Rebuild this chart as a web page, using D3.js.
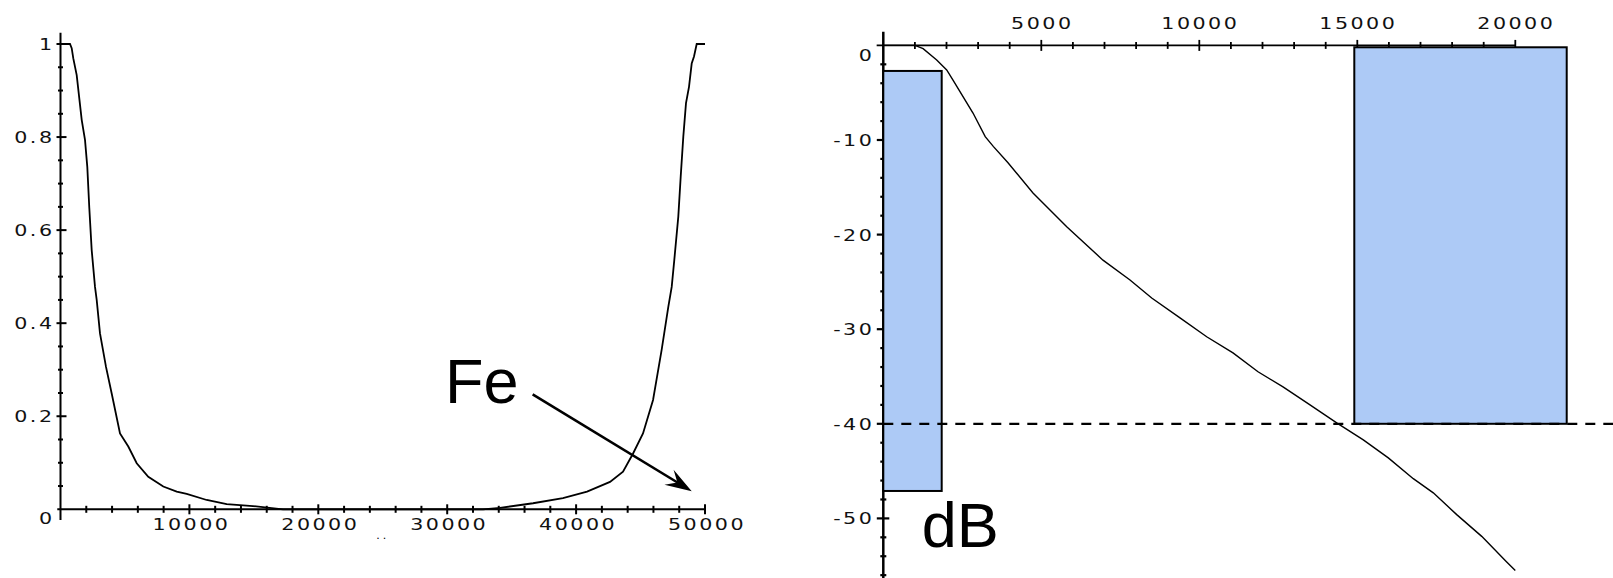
<!DOCTYPE html>
<html>
<head>
    <meta charset="utf-8">
    <title>Fe / dB</title>
    <style type="text/css">
        body { margin: 0; background: #fff; }
        svg { display: block; }
        .tick-label { font-family: "DejaVu Sans", sans-serif; font-size: 16.5px; letter-spacing: 2px; fill: #111; }
        .big { font-family: "Liberation Sans", Arial, sans-serif; font-size: 63px; fill: #000; }
    </style>
</head>
<body>
    <svg class="chart"></svg>
    <script src="https://cdn.jsdelivr.net/npm/d3@7"></script>
    <script type="text/javascript">
        // left plot: Fe response (0..50000)
        var feX = [0, 737, 869, 993, 1257, 1458, 1645, 1901, 2079, 2234, 2420, 2677, 2808, 3064, 3530, 3972, 4616, 5260, 5912, 6811, 7975, 9015, 9790, 11342, 12894, 14934, 17262,
                   32780, 34100, 36660, 38980, 40850, 42630, 43640, 44420, 45190, 45970, 46640, 47153, 47417, 47619, 47929, 48115, 48317, 48526, 48759, 48968, 49147, 49356, 50000];
        var feY = [1, 1, 0.991, 0.969, 0.933, 0.883, 0.837, 0.794, 0.736, 0.648, 0.557, 0.478, 0.450, 0.378, 0.306, 0.249, 0.163, 0.135, 0.099, 0.070, 0.049, 0.038, 0.033, 0.020, 0.011, 0.007, 0,
                   0, 0.003, 0.013, 0.024, 0.038, 0.059, 0.081, 0.12, 0.163, 0.235, 0.343, 0.435, 0.478, 0.536, 0.629, 0.715, 0.801, 0.873, 0.908, 0.958, 0.973, 1, 1];
        var feXTicks = [10000, 20000, 30000, 40000, 50000];
        var feYTicks = [0.2, 0.4, 0.6, 0.8, 1];

        // right plot: gain in dB (0..20000)
        var dbX = [0, 1003, 1260, 1690, 2006, 2206, 2839, 3225, 3487, 3946, 4737, 5813, 6952, 7807, 8494, 9389, 10234, 11066, 11858, 12649, 13503, 14348, 15190, 15981, 16772, 17405, 18146, 18937, 19728, 20000];
        var dbY = [0, 0, -0.35, -1.54, -2.6, -3.66, -7.15, -9.65, -10.7, -12.4, -15.6, -19.2, -22.7, -24.8, -26.7, -28.8, -30.8, -32.5, -34.5, -36.1, -38.0, -39.9, -41.7, -43.6, -45.8, -47.3, -49.6, -51.9, -54.6, -55.5];
        var dbXTicks = [5000, 10000, 15000, 20000];
        var dbYTicks = [-10, -20, -30, -40, -50];

        // pass / stop bands
        var bandStart = [0, 14905];
        var bandEnd = [1848, 21627];
        var bandTop = [-2.7, -0.2];
        var bandBottom = [-47.1, -40];
        var stopLevel = -40;

        var width = 1613, height = 578;
        var stretch = 1.25; // tick font is wide

        var svg = d3.select("svg.chart")
            .attr("width", width)
            .attr("height", height);

        // scales
        var xL = d3.scaleLinear().domain([0, 50000]).range([60.5, 705]);
        var yL = d3.scaleLinear().domain([0, 1]).range([509.3, 44]);
        var xR = d3.scaleLinear().domain([0, 20000]).range([883.3, 1515.3]);
        var yR = d3.scaleLinear().domain([0, -50]).range([45.4, 518.4]);

        // tick label helper
        function label(g, x, y, anchor, txt) {
            return g.append("text")
                .attr("class", "tick-label")
                .attr("transform", `translate(${x},${y}) scale(${stretch},1)`)
                .attr("text-anchor", anchor)
                .text(txt);
        }

        // ---------- left plot ----------
        var gL = svg.append("g");

        // axes lines
        gL.append("line")
            .attr("x1", xL(0)).attr("x2", xL(0))
            .attr("y1", yL(1.024)).attr("y2", yL(-0.023))
            .attr("stroke", "#000").attr("stroke-width", 2);
        gL.append("line")
            .attr("x1", xL(-250)).attr("x2", xL(50000))
            .attr("y1", yL(0)).attr("y2", yL(0))
            .attr("stroke", "#000").attr("stroke-width", 2);

        // minor + major ticks (cross the axis)
        gL.selectAll("line.xt")
            .data(xL.ticks(25).filter(d => d > 0))
            .join("line")
                .attr("class", "xt")
                .attr("x1", d => xL(d)).attr("x2", d => xL(d))
                .attr("y1", d => yL(0) - (d % 10000 === 0 ? 5 : 3.5))
                .attr("y2", d => yL(0) + (d % 10000 === 0 ? 5 : 3.5))
                .attr("stroke", "#000").attr("stroke-width", 2);
        gL.selectAll("line.yt")
            .data(yL.ticks(25).filter(d => d > 0))
            .join("line")
                .attr("class", "yt")
                .attr("x1", d => xL(0) - (Math.abs(d * 5 - Math.round(d * 5)) < 1e-6 ? 4 : 2.5))
                .attr("x2", d => xL(0) + (Math.abs(d * 5 - Math.round(d * 5)) < 1e-6 ? 6 : 2.5))
                .attr("y1", d => yL(d)).attr("y2", d => yL(d))
                .attr("stroke", "#000").attr("stroke-width", 2);

        // tick labels
        feXTicks.forEach(d => label(gL, xL(d) + 2, yL(0) + 21, "middle", d));
        feYTicks.forEach(d => label(gL, xL(0) - 6, yL(d) + 6, "end", d));
        label(gL, xL(0) - 6, yL(0) + 15, "end", "0");
        gL.append("text")
            .attr("x", xL(25000))
            .attr("y", yL(0) + 30)
            .attr("text-anchor", "middle")
            .style("font", "11px 'DejaVu Sans'")
            .style("letter-spacing", "3px")
            .text("..");

        // curve
        gL.append("path")
            .datum(d3.zip(feX, feY))
            .attr("fill", "none")
            .attr("stroke", "#000")
            .attr("stroke-width", 1.8)
            .attr("d", d3.line().x(d => xL(d[0])).y(d => yL(d[1])));

        // Fe annotation
        gL.append("text")
            .attr("class", "big")
            .attr("x", xL(29830))
            .attr("y", yL(0.229))
            .text("Fe");

        var a0 = [xL(36630), yL(0.247)], a1 = [xL(48970), yL(0.039)];
        var ang = Math.atan2(a1[1] - a0[1], a1[0] - a0[0]);
        gL.append("line")
            .attr("x1", a0[0]).attr("y1", a0[1])
            .attr("x2", a1[0] - 8 * Math.cos(ang)).attr("y2", a1[1] - 8 * Math.sin(ang))
            .attr("stroke", "#000").attr("stroke-width", 2.6);
        var hl = 28, hw = 0.32;
        gL.append("path")
            .attr("fill", "#000")
            .attr("d", "M" + a1[0] + "," + a1[1]
                + "L" + (a1[0] - hl * Math.cos(ang - hw)) + "," + (a1[1] - hl * Math.sin(ang - hw))
                + "L" + (a1[0] - 0.6 * hl * Math.cos(ang)) + "," + (a1[1] - 0.6 * hl * Math.sin(ang))
                + "L" + (a1[0] - hl * Math.cos(ang + hw)) + "," + (a1[1] - hl * Math.sin(ang + hw))
                + "Z");

        // ---------- right plot ----------
        var gR = svg.append("g");

        gR.append("line")
            .attr("x1", xR(-210)).attr("x2", xR(20000))
            .attr("y1", yR(0)).attr("y2", yR(0))
            .attr("stroke", "#000").attr("stroke-width", 1.6);
        gR.append("line")
            .attr("x1", xR(0)).attr("x2", xR(0))
            .attr("y1", yR(1.45)).attr("y2", height)
            .attr("stroke", "#000").attr("stroke-width", 2.5);

        gR.selectAll("line.xt")
            .data(xR.ticks(20).filter(d => d > 0))
            .join("line")
                .attr("class", "xt")
                .attr("x1", d => xR(d)).attr("x2", d => xR(d))
                .attr("y1", d => yR(0) - (d % 5000 === 0 ? 5.5 : 3.5))
                .attr("y2", d => yR(0) + (d % 5000 === 0 ? 5.5 : 3.5))
                .attr("stroke", "#000").attr("stroke-width", 1.8);
        gR.selectAll("line.yt")
            .data(d3.scaleLinear().domain([0, -56]).ticks(28).filter(d => d < 0))
            .join("line")
                .attr("class", "yt")
                .attr("x1", d => xR(0) - (d % 10 === 0 ? 6.5 : 3))
                .attr("x2", d => xR(0) + (d % 10 === 0 ? 6 : 3))
                .attr("y1", d => yR(d)).attr("y2", d => yR(d))
                .attr("stroke", "#000").attr("stroke-width", 2.2);

        dbXTicks.forEach(d => label(gR, xR(d) + 1, yR(0) - 16, "middle", d));
        dbYTicks.forEach(d => label(gR, xR(0) - 9, yR(d) + 6, "end", d));
        label(gR, xR(0) - 9, yR(0) + 16, "end", "0");

        // bands
        gR.selectAll("rect.band")
            .data(d3.range(bandStart.length))
            .join("rect")
                .attr("class", "band")
                .attr("x", i => xR(bandStart[i]))
                .attr("y", i => yR(bandTop[i]))
                .attr("width", i => xR(bandEnd[i]) - xR(bandStart[i]))
                .attr("height", i => yR(bandBottom[i]) - yR(bandTop[i]))
                .attr("fill", "#adcaf6")
                .attr("stroke", "#000")
                .attr("stroke-width", 2);

        // -40 dB level
        gR.append("line")
            .attr("x1", xR(0)).attr("x2", width)
            .attr("y1", yR(stopLevel)).attr("y2", yR(stopLevel))
            .attr("stroke", "#000")
            .attr("stroke-width", 2.2)
            .attr("stroke-dasharray", "10,8");

        // response
        gR.append("path")
            .datum(d3.zip(dbX, dbY))
            .attr("fill", "none")
            .attr("stroke", "#000")
            .attr("stroke-width", 1.4)
            .attr("d", d3.line().x(d => xR(d[0])).y(d => yR(d[1])));

        gR.append("text")
            .attr("class", "big")
            .attr("x", xR(1215))
            .attr("y", yR(-53.0))
            .text("dB");
    </script>
</body>
</html>
